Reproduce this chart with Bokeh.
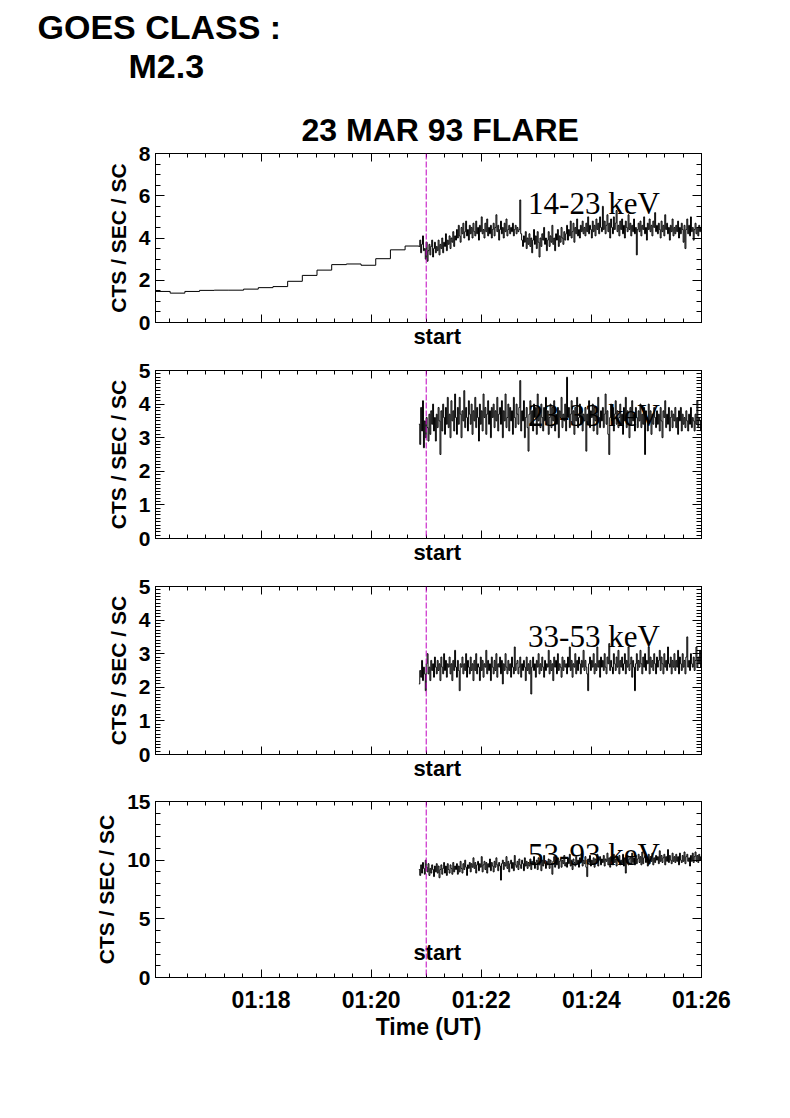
import numpy as np
from bokeh.plotting import figure
from bokeh.models import (Range1d, FixedTicker, LinearAxis, Label, Span, Title,
                          CustomJSTickFormatter)
from bokeh.layouts import column
from bokeh.embed import file_html
from bokeh.resources import INLINE
from bokeh.core.properties import value

# ---------------- data ----------------
goes_lines = ["GOES CLASS :", "M2.3"]
title_text = "23 MAR 93 FLARE"
band_names = ["14-23 keV", "23-33 keV", "33-53 keV", "53-93 keV"]
y_label = "CTS / SEC / SC"
x_label = "Time (UT)"
start_label = "start"

x_first, x_last = "01:16:05", "01:26:00"
flare_start = "01:21:00"

# low-resolution (16 s bins) 14-23 keV rates before the fast data
bin_first = "01:16:05"
bin_seconds = 16
slow_14_23 = [1.47, 1.39, 1.47, 1.52, 1.53, 1.53, 1.58, 1.65, 1.70,
              1.95, 2.23, 2.48, 2.74, 2.77, 2.71, 3.02, 3.44, 3.62]

# fast (1 s) rates from 01:20:52 to 01:26:00
fast_first = "01:20:52"
fast_seconds = 1
rate_14_23 = [
    3.6, 3.9, 3.3, 3.7, 4.1, 3.4, 3.5, 3.0, 3.8, 2.9, 3.4, 3.7, 3.2, 3.6, 3.9, 3.1, 3.5, 3.8, 3.3, 3.6,
    3.4, 3.9, 3.2, 3.7, 3.5, 4.0, 3.3, 3.8, 3.6, 4.2, 3.4, 3.9, 3.7, 4.1, 3.5, 4.0, 3.8, 4.3, 3.6, 4.1,
    3.9, 4.4, 4.0, 4.6, 4.1, 3.8, 4.5, 4.2, 4.7, 4.0, 4.3, 4.8, 4.1, 4.4, 3.9, 4.6, 4.2, 4.5, 4.0, 4.7,
    4.3, 4.1, 4.8, 4.2, 4.5, 3.9, 4.6, 4.3, 5.0, 4.2, 4.4, 4.0, 4.7, 4.3, 4.9, 4.1, 4.5, 4.2, 4.6, 4.0,
    4.4, 4.7, 4.1, 4.5, 5.1, 4.3, 4.6, 3.9, 4.4, 4.8, 4.2, 4.5, 4.0, 4.7, 4.3, 4.9, 4.1, 4.4, 4.6, 4.2,
    4.5, 4.3, 4.7, 4.1, 4.4, 4.6, 4.2, 4.5, 4.3, 4.4, 5.8, 4.2, 3.9, 3.6, 4.1, 3.8, 4.3, 3.5, 4.0, 3.7,
    4.2, 3.6, 4.0, 3.3, 3.9, 4.4, 3.7, 4.1, 3.5, 4.3, 3.8, 3.1, 4.0, 3.6, 4.2, 3.9, 4.5, 3.7, 4.0, 3.4,
    3.9, 4.3, 3.6, 4.1, 3.8, 4.6, 3.7, 4.0, 3.4, 4.2, 3.9, 4.4, 3.6, 4.1, 3.8, 4.5, 4.0, 3.7, 4.3, 3.9,
    4.2, 4.6, 3.9, 4.4, 4.1, 4.8, 4.0, 4.3, 4.7, 3.8, 4.5, 4.2, 4.9, 4.1, 4.4, 4.0, 4.6, 4.3, 4.8, 4.2,
    4.5, 4.1, 4.7, 4.3, 5.0, 4.2, 4.6, 4.4, 4.0, 4.8, 4.3, 4.6, 4.1, 4.9, 4.4, 4.7, 4.2, 5.0, 4.5, 4.3,
    5.5, 4.4, 4.8, 4.2, 4.6, 5.1, 4.3, 4.7, 4.0, 4.9, 4.5, 4.2, 5.0, 4.4, 4.7, 5.3, 4.3, 4.6, 4.1, 4.8,
    4.4, 4.9, 4.2, 4.6, 4.0, 4.8, 4.5, 4.3, 5.1, 4.4, 4.7, 4.1, 4.6, 4.3, 4.9, 4.2, 4.5, 3.2, 4.4, 4.7,
    4.3, 4.8, 4.1, 4.6, 4.4, 5.0, 4.2, 4.5, 3.9, 4.7, 4.4, 4.9, 4.3, 4.6, 4.1, 4.8, 4.5, 5.2, 4.3, 4.6,
    4.2, 4.7, 4.4, 4.0, 4.8, 4.3, 4.6, 4.1, 5.1, 4.4, 4.7, 4.2, 4.5, 3.9, 4.6, 4.3, 4.9, 4.1, 4.5, 4.2,
    4.6, 4.3, 4.8, 4.0, 4.5, 4.2, 4.7, 4.4, 3.8, 4.6, 3.5, 4.4, 4.9, 4.2, 4.6, 4.1, 5.0, 4.3, 4.5, 3.9,
    4.4, 4.7, 4.2, 4.5, 4.1, 4.6, 4.3, 4.5, 4.4]
rate_23_33 = [
    3.4, 2.8, 3.9, 3.2, 4.1, 2.7, 3.5, 3.0, 3.6, 3.3, 2.9, 3.7, 3.1, 3.8, 3.4, 4.0, 3.2, 3.6, 2.9, 3.7,
    3.3, 3.9, 3.5, 2.5, 3.8, 3.2, 4.0, 3.6, 3.1, 3.9, 3.4, 4.2, 3.3, 3.7, 3.0, 4.1, 3.5, 3.8, 3.2, 4.3,
    3.6, 3.1, 3.9, 3.4, 4.2, 3.7, 3.0, 3.8, 3.5, 4.4, 3.3, 3.9, 3.6, 3.2, 4.1, 3.7, 3.4, 4.0, 3.1, 3.8,
    3.5, 4.2, 3.3, 3.9, 3.6, 2.9, 4.0, 3.4, 3.8, 3.2, 4.3, 3.6, 3.9, 3.1, 3.7, 4.1, 3.4, 3.8, 3.0, 3.9,
    3.6, 4.0, 3.3, 3.8, 3.5, 4.2, 3.2, 3.7, 3.9, 3.4, 4.1, 3.0, 3.8, 3.5, 4.3, 3.3, 3.6, 4.0, 3.2, 3.9,
    3.5, 3.8, 3.1, 4.2, 3.6, 3.3, 4.0, 3.7, 3.4, 3.9, 4.7, 3.2, 3.8, 3.5, 4.1, 3.0, 3.6, 3.9, 3.3, 2.6,
    3.7, 4.1, 3.4, 3.8, 3.2, 4.0, 3.6, 3.9, 3.1, 4.3, 3.5, 3.7, 3.3, 4.0, 3.6, 3.2, 3.9, 3.5, 4.2, 3.4,
    3.8, 3.1, 3.6, 4.0, 3.3, 3.9, 3.5, 4.1, 3.2, 3.7, 3.4, 3.9, 3.0, 3.8, 3.6, 4.2, 3.3, 3.7, 3.5, 4.0,
    3.2, 4.8, 3.6, 3.9, 3.3, 3.7, 4.1, 3.4, 3.8, 3.1, 3.9, 3.5, 4.2, 3.3, 3.6, 4.0, 3.4, 3.8, 3.2, 3.7,
    3.5, 3.9, 2.6, 3.7, 3.4, 4.1, 3.3, 3.8, 3.6, 4.0, 3.2, 3.9, 3.5, 3.7, 3.1, 4.2, 3.6, 3.3, 3.8, 3.5,
    3.9, 3.3, 3.7, 4.3, 3.4, 3.8, 3.1, 2.5, 3.6, 4.0, 3.5, 3.9, 3.2, 3.7, 4.1, 3.4, 3.8, 3.3, 3.6, 4.0,
    3.4, 3.7, 3.1, 3.9, 3.5, 4.2, 3.3, 3.8, 3.6, 3.0, 3.9, 3.4, 4.1, 3.5, 3.7, 3.2, 3.9, 3.6, 3.3, 3.8,
    3.5, 4.0, 3.3, 3.7, 3.4, 3.9, 2.5, 3.8, 3.6, 3.2, 4.0, 3.5, 3.8, 3.1, 3.7, 3.4, 3.9, 3.6, 3.3, 3.8,
    3.4, 3.7, 3.2, 3.9, 3.5, 3.0, 3.8, 3.6, 4.1, 3.3, 3.7, 3.4, 3.9, 3.2, 3.6, 3.8, 3.3, 3.7, 3.5, 3.9,
    3.3, 3.6, 3.1, 3.8, 3.5, 3.9, 3.2, 3.7, 3.4, 3.6, 3.3, 3.8, 3.5, 3.2, 3.7, 3.4, 3.9, 3.3, 3.6, 3.5,
    3.2, 3.7, 3.4, 4.1, 3.3, 3.6, 3.5, 3.2, 3.4]
rate_33_53 = [
    2.1, 2.5, 2.3, 2.8, 2.2, 2.6, 2.4, 1.9, 2.7, 3.0, 2.4, 2.6, 2.2, 2.8, 2.5, 2.7, 2.3, 2.9, 2.6, 2.4,
    2.8, 2.5, 2.7, 2.2, 2.9, 2.6, 2.4, 3.0, 2.5, 2.8, 2.3, 2.7, 2.6, 2.9, 2.4, 2.7, 2.2, 2.8, 2.5, 3.1,
    2.6, 2.3, 2.8, 2.5, 1.9, 2.7, 2.6, 2.9, 2.4, 2.7, 2.5, 3.0, 2.3, 2.8, 2.6, 2.4, 2.9, 2.5, 2.7, 2.2,
    2.8, 2.5, 3.0, 2.4, 2.7, 2.6, 2.2, 2.9, 2.5, 2.8, 2.3, 2.7, 2.6, 3.1, 2.4, 2.8, 2.5, 2.7, 2.2, 2.9,
    2.6, 2.4, 2.8, 2.5, 3.0, 2.3, 2.7, 2.6, 2.9, 2.4, 2.8, 2.1, 2.7, 2.5, 3.0, 2.6, 2.4, 2.8, 2.5, 2.7,
    2.3, 2.9, 2.6, 2.4, 3.2, 2.5, 2.7, 2.8, 2.4, 2.6, 2.9, 2.3, 2.7, 2.5, 2.8, 2.6, 2.2, 2.9, 2.5, 2.7,
    2.4, 2.8, 1.8, 2.6, 2.9, 2.5, 2.7, 2.3, 2.8, 2.6, 3.0, 2.4, 2.7, 2.5, 2.9, 2.6, 2.3, 2.8, 2.5, 2.7,
    2.6, 3.1, 2.4, 2.8, 2.5, 2.7, 2.2, 2.9, 2.6, 2.8, 2.4, 3.0, 2.5, 2.7, 2.6, 2.3, 2.9, 2.5, 2.8, 2.6,
    2.7, 2.4, 2.9, 2.6, 3.2, 2.5, 2.8, 2.3, 2.7, 2.6, 3.0, 2.4, 2.8, 2.5, 2.9, 2.7, 2.4, 2.8, 2.6, 3.1,
    2.5, 2.8, 2.6, 2.4, 1.9, 2.7, 2.9, 2.5, 2.8, 2.6, 3.0, 2.4, 2.7, 2.5, 3.2, 2.6, 2.8, 2.3, 2.9, 2.6,
    2.8, 2.5, 3.0, 2.6, 2.4, 2.9, 2.7, 3.3, 2.5, 2.8, 2.6, 2.4, 3.0, 2.7, 2.5, 2.9, 2.6, 3.1, 2.4, 2.8,
    2.6, 2.9, 2.5, 2.7, 3.0, 2.4, 2.8, 2.6, 3.2, 2.5, 2.7, 2.9, 2.3, 2.8, 2.6, 1.9, 2.7, 3.0, 2.5, 2.8,
    2.6, 3.1, 2.7, 2.4, 2.9, 2.6, 3.0, 2.5, 2.8, 2.7, 3.2, 2.4, 2.9, 2.6, 2.8, 2.5, 3.0, 2.7, 2.4, 2.9,
    2.6, 2.8, 3.1, 2.5, 2.9, 2.7, 2.4, 3.0, 2.6, 2.8, 2.5, 3.2, 2.7, 2.6, 2.9, 2.4, 2.8, 2.6, 3.0, 2.5,
    2.8, 2.6, 3.1, 2.4, 2.9, 2.7, 2.5, 3.0, 2.6, 2.8, 2.4, 2.9, 3.5, 2.6, 2.8, 2.5, 3.0, 2.7, 2.6, 2.9,
    2.5, 2.8, 3.2, 2.6, 2.9, 2.7, 3.1, 2.6, 2.8]
rate_53_93 = [
    9.2, 8.7, 9.6, 8.9, 9.8, 9.3, 8.8, 10.0, 9.4, 9.0, 9.7, 8.7, 9.3, 8.9, 9.6, 9.2, 8.6, 9.5, 9.0, 9.7,
    8.9, 9.5, 8.5, 9.2, 9.6, 8.8, 9.3, 9.8, 8.9, 9.5, 8.7, 9.7, 9.2, 8.9, 9.6, 9.3, 8.8, 9.8, 9.0, 9.5,
    9.2, 9.7, 8.8, 9.5, 9.0, 9.9, 9.3, 8.9, 9.7, 9.2, 10.0, 9.4, 8.7, 9.6, 9.3, 9.8, 9.0, 9.7, 9.4, 10.2,
    9.3, 9.8, 8.9, 9.6, 9.9, 9.1, 9.7, 9.4, 10.3, 9.0, 9.6, 9.9, 9.2, 9.8, 8.9, 9.7, 9.4, 10.1, 9.1, 9.8,
    9.5, 9.0, 9.9, 9.4, 10.2, 9.6, 9.1, 9.8, 9.5, 8.3, 9.7, 10.0, 9.2, 9.8, 9.5, 10.3, 9.3, 9.9, 9.0, 9.7,
    10.0, 9.3, 9.8, 9.1, 10.4, 9.6, 9.4, 9.9, 9.2, 10.1, 9.6, 9.3, 10.0, 9.7, 9.1, 10.2, 9.5, 9.9, 9.3, 9.8,
    9.5, 10.1, 9.2, 9.9, 9.6, 10.3, 9.3, 9.8, 10.0, 9.2, 10.2, 9.6, 9.9, 9.1, 10.0, 9.5, 10.4, 9.7, 9.3, 9.9,
    9.6, 10.1, 9.3, 10.0, 9.7, 8.8, 9.9, 10.3, 9.4, 10.0, 9.6, 10.2, 9.3, 9.9, 10.1, 9.4, 10.0, 9.7, 10.4, 9.5,
    9.8, 9.4, 10.2, 9.7, 10.5, 9.5, 10.0, 9.2, 10.1, 9.8, 9.5, 10.3, 9.7, 10.0, 9.4, 10.2, 9.8, 10.6, 9.5, 10.0,
    9.7, 10.3, 9.4, 8.6, 10.1, 9.8, 10.4, 9.5, 10.0, 9.7, 10.2, 9.4, 10.1, 9.8, 10.5, 9.5, 10.0, 10.3, 9.6, 10.1,
    9.8, 10.4, 9.5, 10.1, 9.9, 10.6, 9.6, 10.2, 9.4, 10.3, 9.9, 9.6, 10.5, 9.8, 10.1, 9.5, 10.3, 9.9, 10.4, 9.6,
    10.0, 9.7, 10.5, 9.5, 10.2, 8.9, 9.9, 10.4, 9.6, 10.1, 10.3, 9.7, 10.6, 9.8, 10.2, 9.6, 10.4, 9.7, 10.1, 10.5,
    9.8, 10.3, 9.6, 10.7, 9.7, 10.2, 10.4, 9.8, 10.1, 9.5, 10.5, 9.7, 10.3, 9.9, 10.6, 9.6, 10.2, 9.8, 10.4, 10.0,
    10.3, 9.7, 10.8, 9.9, 10.4, 9.8, 10.2, 10.5, 9.6, 10.3, 9.9, 10.9, 9.8, 10.4, 10.0, 9.7, 10.6, 9.9, 10.3, 9.8,
    10.5, 9.9, 10.3, 9.6, 10.6, 10.0, 9.8, 10.4, 9.9, 10.7, 9.7, 10.3, 10.5, 9.9, 10.2, 9.5, 10.4, 9.9, 10.6, 9.8,
    10.3, 10.7, 9.9, 10.4, 9.8, 10.5, 10.0, 10.3, 10.0]

y_max = [8, 5, 5, 15]
y_major_step = [2, 1, 1, 5]
y_minor_step = [0.5, 0.1, 0.1, 1]
x_major_ticks = ["01:16", "01:18", "01:20", "01:22", "01:24", "01:26"]


def sec(hms):
    parts = [int(v) for v in hms.split(":")]
    while len(parts) < 3:
        parts.append(0)
    return parts[0] * 3600 + parts[1] * 60 + parts[2]


# ---------------- layout ----------------
SANS = "Liberation Sans"
SERIF = "Liberation Serif"
FIG_W = 770
FRAME_L, FRAME_W = 155, 546
LEFT_B, RIGHT_B = FRAME_L, FIG_W - FRAME_L - FRAME_W
HEAD_H = 97

xr = Range1d(sec(x_first), sec(x_last))
x_major = [sec(t) for t in x_major_ticks]
x_minor = list(range(x_major[0], x_major[-1] + 1, 20))

slow_t = sec(bin_first) + bin_seconds * np.arange(len(slow_14_23))
fast_t = sec(fast_first) + fast_seconds * np.arange(len(rate_14_23))

series = [
    (np.concatenate([slow_t, fast_t]), slow_14_23 + rate_14_23),
    (fast_t, rate_23_33),
    (fast_t, rate_33_53),
    (fast_t, rate_53_93),
]

# (fig height, top border, bottom border)
geom = [(254, 56, 22), (216, 19, 22), (216, 19, 22), (317, 18, 123)]
band_y = [5.65, 3.65, 3.5, 10.5]

time_fmt = CustomJSTickFormatter(code="""
const h = Math.floor(tick / 3600);
const m = Math.round((tick - 3600 * h) / 60);
return String(h).padStart(2, '0') + ':' + String(m).padStart(2, '0');
""")


def style_axis(ax, ticker, show_labels, font_size="21px"):
    ax.ticker = ticker
    ax.axis_line_color = "black"
    ax.axis_line_width = 1
    ax.major_tick_line_color = "black"
    ax.minor_tick_line_color = "black"
    ax.major_tick_in = 8
    ax.major_tick_out = 0
    ax.minor_tick_in = 4
    ax.minor_tick_out = 0
    ax.major_label_text_font = SANS
    ax.major_label_text_font_style = "bold"
    if show_labels:
        ax.major_label_text_color = "black"
        ax.major_label_text_font_size = font_size
    else:
        ax.major_label_text_color = None
        ax.major_label_text_font_size = "1px"
        ax.major_label_standoff = 0


# header with the GOES class
head = figure(width=FIG_W, height=HEAD_H, x_range=Range1d(0, FIG_W),
              y_range=Range1d(0, HEAD_H), output_backend="svg", title=None,
              toolbar_location=None, tools="", x_axis_location=None,
              y_axis_location=None, min_border=0)
head.frame_align = False
head.grid.visible = False
head.outline_line_color = None
head.text(x=[37, 128], y=[HEAD_H - 26, HEAD_H - 65], text=goes_lines,
          text_font=value(SANS), text_font_style="bold", text_font_size="34px",
          text_align="left", text_baseline="alphabetic", text_color="black")

figs = [head]
for i in range(4):
    h, bt, bb = geom[i]
    p = figure(width=FIG_W, height=h, x_range=xr, y_range=Range1d(0, y_max[i]),
               output_backend="svg", toolbar_location=None, tools="", title=None,
               x_axis_location=None, y_axis_location=None,
               min_border_left=LEFT_B, min_border_right=RIGHT_B,
               min_border_top=bt, min_border_bottom=bb)
    p.grid.visible = False
    p.outline_line_color = "black"
    p.background_fill_color = "white"
    p.border_fill_color = "white"

    y_ticks = [float(v) for v in np.round(np.arange(0, y_max[i] + 1e-9, y_major_step[i]), 3)]
    y_minor = [float(v) for v in np.round(np.arange(0, y_max[i] + 1e-9, y_minor_step[i]), 3)]
    y_ticker = FixedTicker(ticks=y_ticks, minor_ticks=y_minor)
    x_ticker = FixedTicker(ticks=x_major, minor_ticks=x_minor)

    left = LinearAxis(axis_label=y_label)
    style_axis(left, y_ticker, True, "21px")
    left.major_label_standoff = 5
    left.axis_label_text_font = SANS
    left.axis_label_text_font_style = "bold"
    left.axis_label_text_font_size = "21px"
    left.axis_label_standoff = 6
    left.axis_label_text_color = "black"
    left.major_tick_in = 9
    left.minor_tick_in = 5
    p.add_layout(left, "left")

    right = LinearAxis()
    style_axis(right, y_ticker, False)
    right.major_tick_in = 9
    right.minor_tick_in = 5
    p.add_layout(right, "right")

    top = LinearAxis()
    style_axis(top, x_ticker, False)
    p.add_layout(top, "above")

    if i == 0:
        p.add_layout(Title(text=title_text, align="left", offset=146,
                           standoff=12, vertical_align="bottom",
                           text_font=SANS, text_font_style="bold",
                           text_font_size="32px", text_color="black"), "above")

    last = (i == 3)
    bottom = LinearAxis(axis_label=x_label if last else None)
    style_axis(bottom, x_ticker, last, "23px")
    if last:
        bottom.formatter = time_fmt
        bottom.major_label_standoff = 9
        bottom.axis_label_text_font = SANS
        bottom.axis_label_text_font_style = "bold"
        bottom.axis_label_text_font_size = "23px"
        bottom.axis_label_standoff = -2
        bottom.axis_label_text_color = "black"
    p.add_layout(bottom, "below")

    start_pos = sec(flare_start) + 12
    if not last:
        # "start" written just under the frame, at the flare start time
        sa = LinearAxis(ticker=FixedTicker(ticks=[start_pos], minor_ticks=[]),
                        formatter=CustomJSTickFormatter(code="return 'start';"))
        sa.axis_line_color = None
        sa.major_tick_line_color = None
        sa.minor_tick_line_color = None
        sa.major_tick_in = 0
        sa.major_tick_out = 0
        sa.major_label_standoff = 1
        sa.major_label_text_font = SANS
        sa.major_label_text_font_style = "bold"
        sa.major_label_text_font_size = "22px"
        sa.major_label_text_color = "black"
        p.add_layout(sa, "below")
    else:
        p.add_layout(Label(x=start_pos, y=2.13, text=start_label,
                           text_align="center", text_baseline="middle",
                           text_font=SANS, text_font_style="bold",
                           text_font_size="22px", text_color="black"))

    # band label (under the data)
    p.text(x=[sec("01:22:51")], y=[band_y[i]], text=[band_names[i]],
           text_font=value(SERIF), text_font_size="31px",
           text_align="left", text_baseline="alphabetic", text_color="black")

    t, v = series[i]
    p.step(x=t, y=v, mode="after", line_color="black", line_width=1)

    p.add_layout(Span(location=sec(flare_start), dimension="height",
                      line_color="#c000c0", line_dash="6 2", line_width=1))
    figs.append(p)

layout = column(*figs, spacing=0)
open("out.html", "w").write(file_html(layout, INLINE))
